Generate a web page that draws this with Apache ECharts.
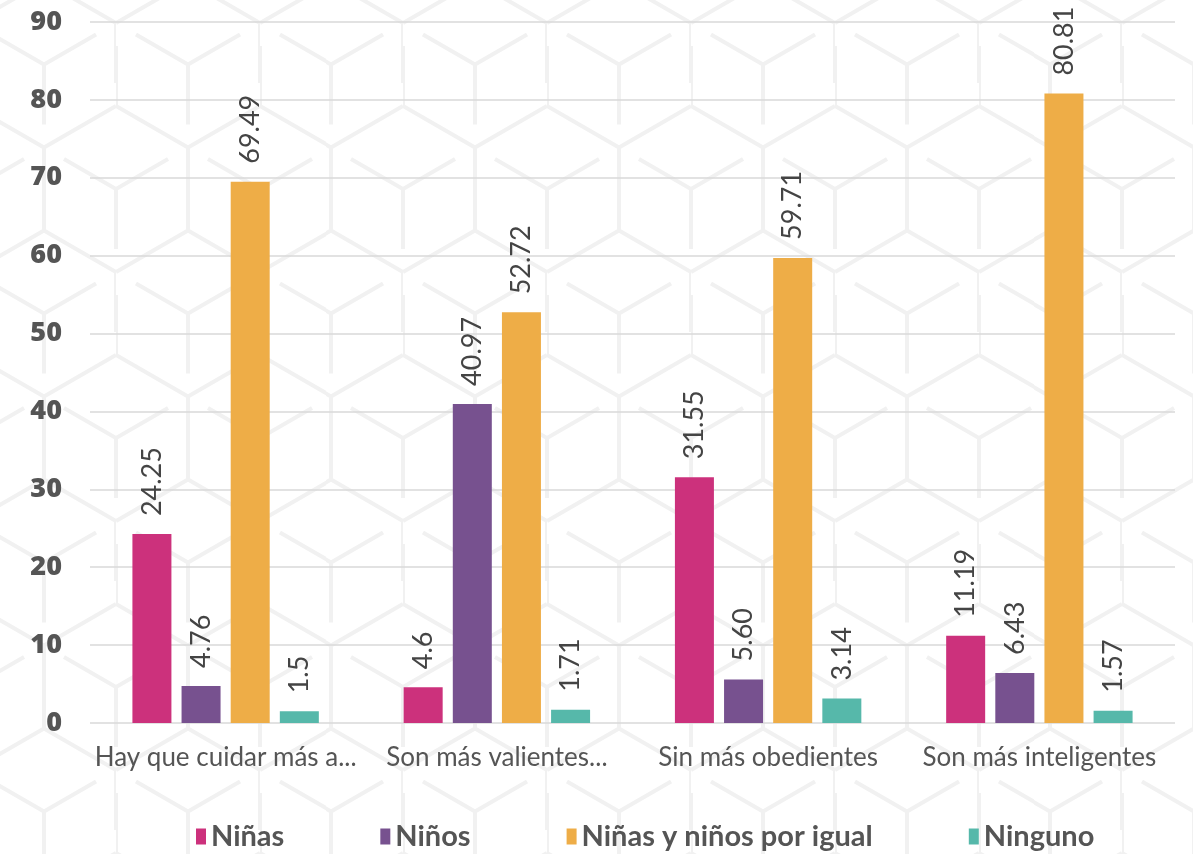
<!DOCTYPE html>
<html>
<head>
<meta charset="utf-8">
<script src="https://cdn.jsdelivr.net/npm/echarts@6/dist/echarts.min.js"></script>
<style>
  html, body { margin: 0; padding: 0; background: #fff; }
  #main { width: 1193px; height: 854px; }
</style>
</head>
<body>
<div id="main"></div>
<script>
var categories = ['Hay que cuidar más a...', 'Son más valientes...', 'Sin más obedientes', 'Son más inteligentes'];
var ninas = [24.25, 4.6, 31.55, 11.19];
var ninos = [4.76, 40.97, '5.60', 6.43];
var igual = [69.49, 52.72, 59.71, 80.81];
var ninguno = [1.5, 1.71, 3.14, 1.57];
var yTicks = [0, 10, 20, 30, 40, 50, 60, 70, 80, 90];

var colors = ['#cc317c', '#77518f', '#eead47', '#56b8aa'];

// fondo decorativo: rejilla de cubos muy tenue
(function () {
  var s = 83, w = s * Math.sqrt(3), h = 3 * s;
  var centers = [[0, 0], [w, 0], [w / 2, 1.5 * s], [0, h], [w, h], [w / 2, -1.5 * s], [w / 2, 4.5 * s]];
  var d = '';
  centers.forEach(function (c) {
    var x = c[0], y = c[1];
    var v = [[x, y - s], [x + w / 2, y - s / 2], [x + w / 2, y + s / 2], [x, y + s], [x - w / 2, y + s / 2], [x - w / 2, y - s / 2]];
    for (var i = 0; i < 6; i++) {
      var a = v[i], b = v[(i + 1) % 6];
      d += 'M' + a[0].toFixed(1) + ' ' + a[1].toFixed(1) + 'L' + b[0].toFixed(1) + ' ' + b[1].toFixed(1);
    }
    [v[5], v[1], v[3]].forEach(function (p) {
      d += 'M' + x.toFixed(1) + ' ' + y.toFixed(1) + 'L' + p[0].toFixed(1) + ' ' + p[1].toFixed(1);
    });
  });
  var svg = '<svg xmlns="http://www.w3.org/2000/svg" width="' + w.toFixed(1) + '" height="' + h + '">' +
    '<path d="' + d + '" stroke="#f1f1f1" stroke-width="4" fill="none" stroke-dasharray="60 23"/></svg>';
  document.body.style.backgroundImage = 'url("data:image/svg+xml;utf8,' + encodeURIComponent(svg) + '")';
  document.body.style.backgroundPosition = '-28px -60px';
})();

function bar(name, data, color) {
  return {
    name: name,
    type: 'bar',
    data: data,
    barWidth: 39,
    barGap: '26%',
    itemStyle: { color: color },
    label: {
      show: true,
      position: 'top',
      rotate: 90,
      align: 'left',
      verticalAlign: 'middle',
      distance: 18,
      fontFamily: 'Lato',
      fontSize: 27,
      color: '#444',
      formatter: function (p) { return String(data[p.dataIndex]); }
    }
  };
}

var myChart = echarts.init(document.getElementById('main'));
myChart.setOption({
  animation: false,
  grid: { left: 90, right: 18, top: 22, bottom: 131 },
  legend: {
    bottom: -2,
    left: 191,
    itemWidth: 10,
    itemHeight: 16,
    itemGap: 96,
    icon: 'rect',
    textStyle: {
      fontFamily: 'Lato',
      fontWeight: 'bold',
      fontSize: 29,
      color: '#555'
    },
    data: ['Niñas', 'Niños', 'Niñas y niños por igual', 'Ninguno']
  },
  xAxis: {
    type: 'category',
    data: categories,
    axisLine: { show: false },
    axisTick: { show: false },
    axisLabel: {
      margin: 22,
      fontFamily: 'Lato',
      fontSize: 26,
      color: '#555',
      interval: 0
    }
  },
  yAxis: {
    type: 'value',
    min: yTicks[0],
    max: yTicks[yTicks.length - 1],
    interval: 10,
    axisLine: { show: false },
    axisTick: { show: false },
    splitLine: { lineStyle: { color: '#d9d9d9', width: 1.5 } },
    axisLabel: {
      margin: 28,
      fontFamily: 'Open Sans',
      fontWeight: 800,
      fontSize: 27,
      color: '#555'
    }
  },
  series: [
    bar('Niñas', ninas, colors[0]),
    bar('Niños', ninos, colors[1]),
    bar('Niñas y niños por igual', igual, colors[2]),
    bar('Ninguno', ninguno, colors[3])
  ]
});
</script>
</body>
</html>
